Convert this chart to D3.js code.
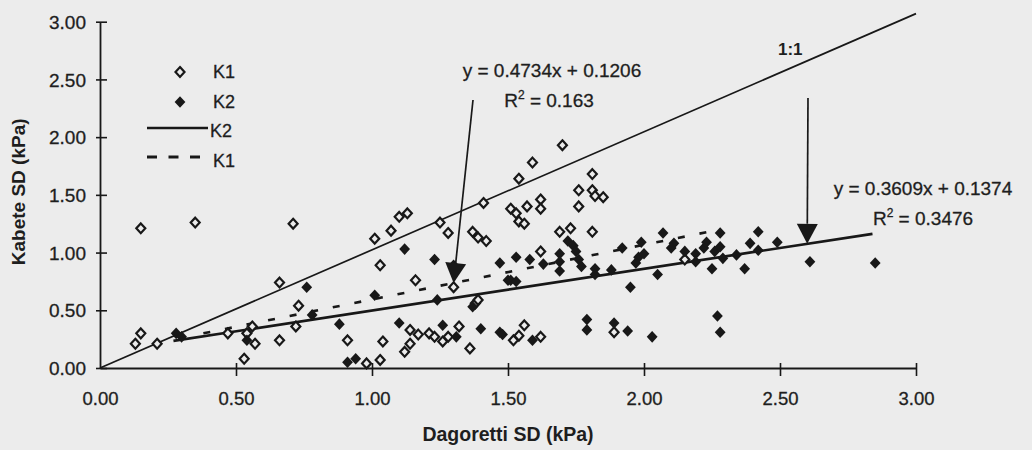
<!DOCTYPE html>
<html><head><meta charset="utf-8">
<script src="https://cdn.jsdelivr.net/npm/d3@7"></script>
<style>
body{margin:0;background:#ececec;}
svg{display:block;font-family:"Liberation Sans",Arial,sans-serif;}
</style>
</head><body>
<svg id="chart" width="1032" height="450"></svg>
<script>
// ---- data ----
const xTickValues = [0, 0.5, 1, 1.5, 2, 2.5, 3];
const yTickValues = [0, 0.5, 1, 1.5, 2, 2.5, 3];

// K1 (open diamonds)
const k1Dagoretti = [0.15,0.35,0.71,0.66,0.15,0.13,0.21,0.47,0.54,0.56,0.57,0.53,0.66,0.72,0.73,0.91,
  1.10,1.13,1.07,1.01,1.25,1.28,1.37,1.39,1.42,1.03,1.16,1.30,1.04,1.03,0.98,1.14,1.17,1.14,1.12,
  1.21,1.23,1.26,1.28,1.32,1.36,1.38,1.39,1.70,1.59,1.54,1.41,1.81,1.76,1.81,1.82,1.85,1.76,1.51,
  1.53,1.57,1.62,1.62,1.54,1.56,1.69,1.73,1.81,1.62,1.56,1.54,1.52,1.62,1.89,2.15];
const k1Kabete = [1.21,1.26,1.25,0.74,0.30,0.21,0.21,0.30,0.30,0.36,0.21,0.08,0.24,0.36,0.54,0.24,
  1.31,1.34,1.19,1.12,1.26,1.17,1.18,1.13,1.10,0.89,0.76,0.70,0.23,0.07,0.04,0.33,0.29,0.21,0.14,
  0.30,0.27,0.23,0.27,0.36,0.17,0.56,0.59,1.93,1.78,1.64,1.43,1.68,1.54,1.54,1.49,1.48,1.40,1.38,
  1.34,1.40,1.46,1.38,1.27,1.25,1.18,1.21,1.18,1.01,0.37,0.28,0.24,0.27,0.31,0.94];

// K2 (filled diamonds)
const k2Dagoretti = [0.28,0.30,0.54,0.76,0.78,0.88,0.91,0.94,1.12,1.23,1.01,1.10,1.24,1.30,1.37,1.26,
  1.31,1.40,1.47,1.48,1.59,1.79,1.79,1.89,1.94,2.03,1.47,1.53,1.58,1.63,1.69,1.69,1.69,1.72,1.74,
  1.75,1.76,1.77,1.82,1.82,1.88,1.92,1.99,1.98,2.00,1.97,1.95,2.05,2.07,1.50,1.51,1.53,2.28,2.42,
  2.39,2.49,2.42,2.25,2.37,2.61,2.85,2.27,2.28,2.11,2.15,2.19,2.19,2.22,2.23,2.26,2.28,2.29,2.34,2.10];
const k2Kabete = [0.30,0.27,0.24,0.70,0.46,0.38,0.05,0.08,1.03,0.94,0.63,0.39,0.59,0.89,0.53,0.37,
  0.27,0.34,0.31,0.29,0.24,0.42,0.33,0.39,0.32,0.27,0.91,0.96,0.94,0.90,0.99,0.92,0.84,1.10,1.06,
  1.01,0.94,0.88,0.86,0.81,0.85,1.04,1.09,0.96,0.99,0.91,0.70,0.81,1.17,0.76,0.76,0.75,1.17,1.18,
  1.08,1.09,1.02,0.86,0.86,0.92,0.91,0.45,0.31,1.08,1.01,0.99,0.92,1.04,1.09,1.01,1.05,0.95,0.98,1.04];

// regression fits (slope, intercept) and drawn ranges
const fitNames = ["K1", "K2"];
const fitSlopes = [0.4734, 0.3609];
const fitIntercepts = [0.1206, 0.1374];
const fitR2 = ["0.163", "0.3476"];
const fitFrom = [0.38, 0.27];
const fitTo = [2.28, 2.84];
const arrowAtX = [1.30, 2.60];

// 1:1 reference line as it appears in the picture
const oneToOneX = [0, 3.0];
const oneToOneY = [0, 3.07];

const legendLabels = ["K1", "K2", "K2", "K1"];

// ---- drawing ----
const ink = "#181818";
const txt = "#1e1e1e";
const bg = "#ececec";
const svg = d3.select("#chart");
const x = d3.scaleLinear().domain([0, 3]).range([100, 916]);
const y = d3.scaleLinear().domain([0, 3]).range([368, 21.7]);

// 1:1 line
svg.append("path")
  .attr("d", d3.line()(oneToOneX.map((v, i) => [x(v), y(oneToOneY[i])])))
  .attr("stroke", ink).attr("stroke-width", 1.7).attr("fill", "none");

// fit lines
const fitLine = (i) => d3.line()([fitFrom[i], fitTo[i]].map(v => [x(v), y(fitSlopes[i] * v + fitIntercepts[i])]));
svg.append("path").attr("d", fitLine(1))
  .attr("stroke", ink).attr("stroke-width", 2.7).attr("fill", "none");
svg.append("path").attr("d", fitLine(0))
  .attr("stroke", ink).attr("stroke-width", 2.6).attr("fill", "none")
  .attr("stroke-dasharray", "7,15");

// diamonds
const diamond = (cx, cy, w, h) => `M${cx},${cy - h}L${cx + w},${cy}L${cx},${cy + h}L${cx - w},${cy}Z`;
svg.append("g").selectAll("path").data(k1Dagoretti.map((v, i) => [v, k1Kabete[i]]))
  .join("path")
  .attr("d", d => diamond(x(d[0]), y(d[1]), 4.5, 4.9))
  .attr("fill", bg).attr("stroke", ink).attr("stroke-width", 2.2);
svg.append("g").selectAll("path").data(k2Dagoretti.map((v, i) => [v, k2Kabete[i]]))
  .join("path")
  .attr("d", d => diamond(x(d[0]), y(d[1]), 5.4, 5.8))
  .attr("fill", ink);

// axes
const xAxis = svg.append("g").attr("transform", `translate(0,${y(0)})`)
  .call(d3.axisBottom(x).tickValues(xTickValues).tickFormat(d3.format(".2f")).tickSizeOuter(0));
xAxis.select(".domain").attr("stroke", ink).attr("stroke-width", 1.8);
xAxis.selectAll(".tick line").attr("y1", -5).attr("y2", 8).attr("stroke", ink).attr("stroke-width", 1.6)
  .filter(d => d === 0).remove();
xAxis.selectAll(".tick text").attr("y", 0).attr("dy", 0).attr("transform", "translate(0,36.5)")
  .attr("font-size", 18.5).attr("fill", txt).attr("stroke", txt).attr("stroke-width", 0.3)
  .attr("font-family", "Liberation Sans, Arial");

const yAxis = svg.append("g").attr("transform", `translate(${x(0)},0)`)
  .call(d3.axisLeft(y).tickValues(yTickValues).tickFormat(d3.format(".2f")).tickSizeOuter(0));
yAxis.select(".domain").attr("stroke", ink).attr("stroke-width", 1.8);
yAxis.selectAll(".tick line").attr("x1", -4).attr("x2", 7).attr("stroke", ink).attr("stroke-width", 1.6);
yAxis.selectAll(".tick text").attr("x", -14).attr("dy", "0.35em")
  .attr("font-size", 19).attr("fill", txt).attr("stroke", txt).attr("stroke-width", 0.3)
  .attr("font-family", "Liberation Sans, Arial");

// axis titles
svg.append("text").attr("x", (x(0) + x(3)) / 2).attr("y", 441)
  .attr("text-anchor", "middle").attr("font-weight", "bold").attr("font-size", 19.5).attr("fill", txt)
  .text("Dagoretti SD (kPa)");
svg.append("text").attr("transform", `translate(25,${(y(0) + y(3)) / 2 - 3}) rotate(-90)`)
  .attr("text-anchor", "middle").attr("font-weight", "bold").attr("font-size", 19).attr("fill", txt)
  .text("Kabete SD (kPa)");

// 1:1 label
svg.append("text").attr("x", 778).attr("y", 55).attr("font-weight", "bold").attr("font-size", 17)
  .attr("fill", txt).text("1:1");

// annotations: equations and arrows
const eqPos = [[552, 77], [923, 195]];
const arrowTop = [[473, 100], [808, 98]];
fitNames.forEach((n, i) => {
  const t = svg.append("text").attr("x", eqPos[i][0]).attr("y", eqPos[i][1])
    .attr("text-anchor", "middle").attr("font-size", 19).attr("fill", txt)
    .attr("stroke", txt).attr("stroke-width", 0.3);
  t.text(`y = ${fitSlopes[i]}x + ${fitIntercepts[i]}`);
  const r = svg.append("text").attr("x", eqPos[i][0] + (i === 0 ? -3 : 0)).attr("y", eqPos[i][1] + 30)
    .attr("text-anchor", "middle").attr("font-size", 19).attr("fill", txt)
    .attr("stroke", txt).attr("stroke-width", 0.3);
  r.append("tspan").text("R");
  r.append("tspan").attr("font-size", 12).attr("dy", -8).text("2");
  r.append("tspan").attr("dy", 8).text(` = ${fitR2[i]}`);

  const tipX = x(arrowAtX[i]);
  const tipY = y(fitSlopes[i] * arrowAtX[i] + fitIntercepts[i]);
  const [sx, sy] = arrowTop[i];
  const dx = tipX - sx, dy = tipY - sy, len = Math.hypot(dx, dy);
  const ux = dx / len, uy = dy / len;
  const hl = 20, hw = 10.5;
  const bx = tipX - ux * hl, by = tipY - uy * hl;
  svg.append("line").attr("x1", sx).attr("y1", sy).attr("x2", bx).attr("y2", by)
    .attr("stroke", ink).attr("stroke-width", 1.7);
  svg.append("path")
    .attr("d", `M${tipX},${tipY}L${bx - uy * hw},${by + ux * hw}L${bx + uy * hw},${by - ux * hw}Z`)
    .attr("fill", ink);
});

// legend
const lg = svg.append("g");
lg.append("path").attr("d", diamond(180, 72, 4.5, 4.9)).attr("fill", bg).attr("stroke", ink).attr("stroke-width", 2.2);
lg.append("path").attr("d", diamond(180, 102, 5.4, 5.8)).attr("fill", ink);
lg.append("line").attr("x1", 147).attr("x2", 208).attr("y1", 128).attr("y2", 128).attr("stroke", ink).attr("stroke-width", 2.6);
lg.append("line").attr("x1", 147).attr("x2", 200).attr("y1", 157).attr("y2", 157).attr("stroke", ink).attr("stroke-width", 2.8)
  .attr("stroke-dasharray", "10,11.5");
const lgY = [78, 108, 137, 167];
const lgX = [213, 213, 210, 213];
legendLabels.forEach((l, i) => {
  lg.append("text").attr("x", lgX[i]).attr("y", lgY[i]).attr("font-size", 18).attr("fill", txt)
    .attr("stroke", txt).attr("stroke-width", 0.3).text(l);
});
</script>
</body></html>
